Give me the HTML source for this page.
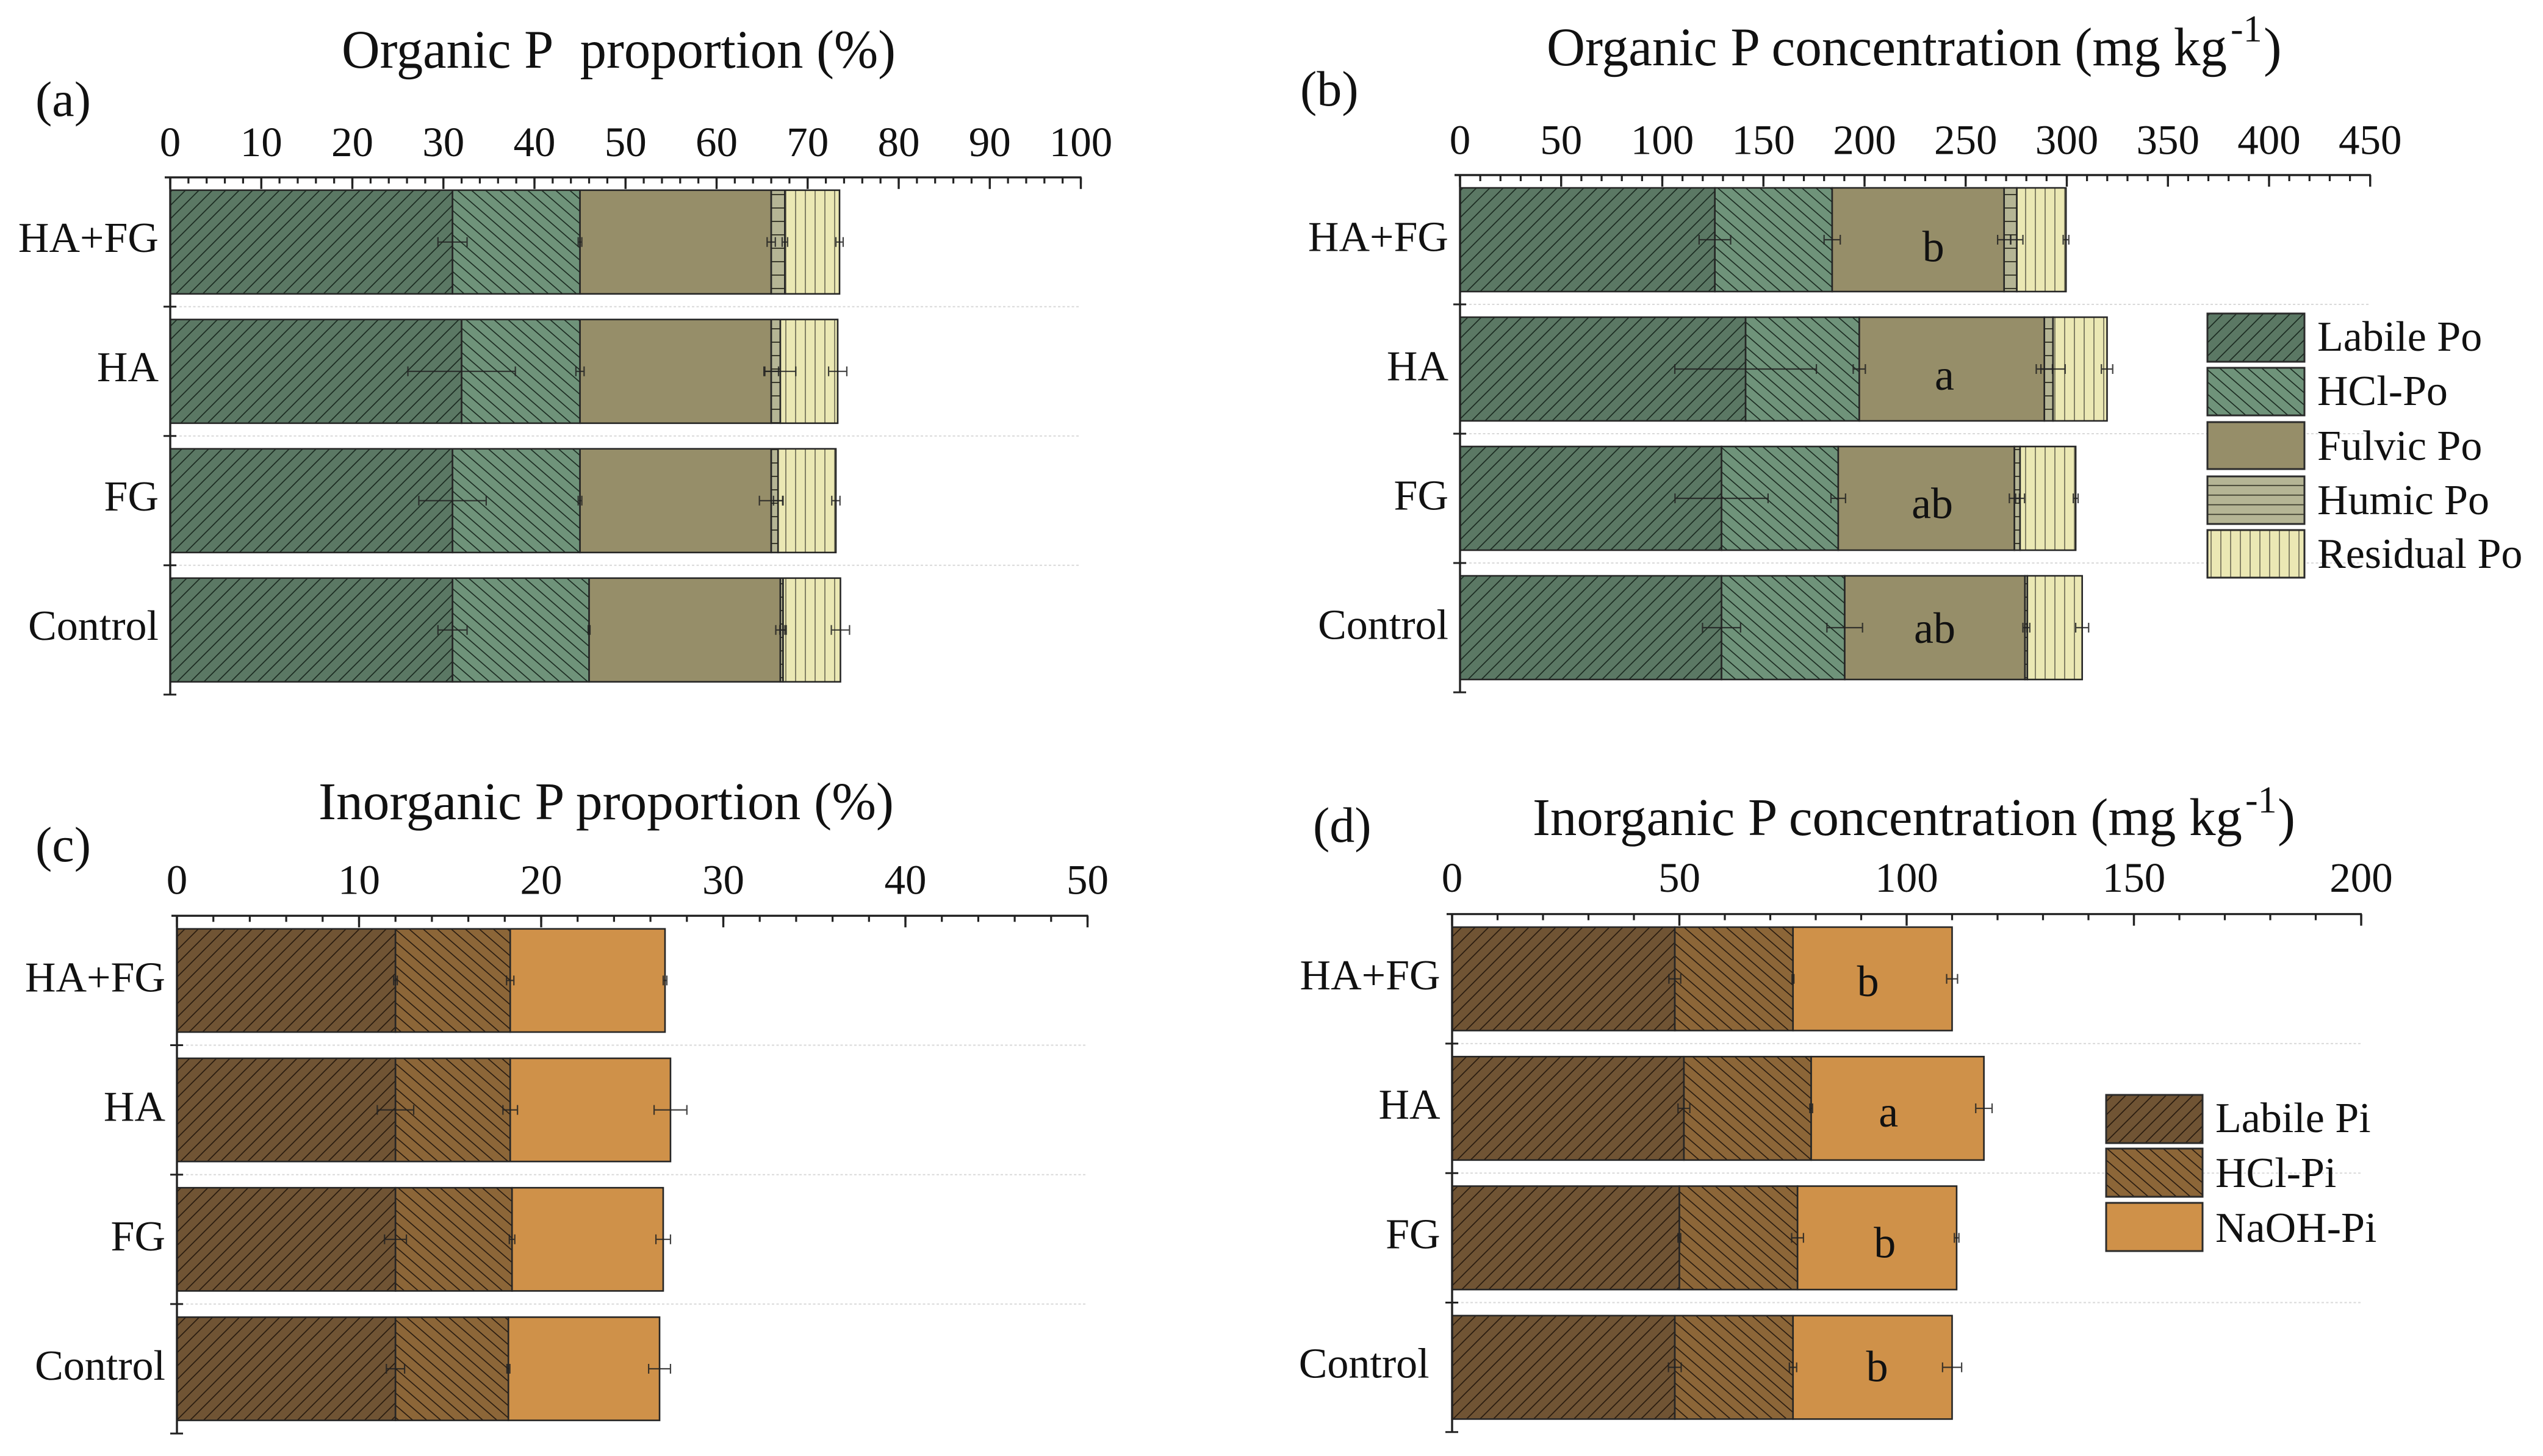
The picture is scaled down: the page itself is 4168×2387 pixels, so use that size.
<!DOCTYPE html>
<html lang="en">
<head>
<meta charset="utf-8">
<title>Organic and inorganic P fractions</title>
<style>
  html, body { margin: 0; padding: 0; background: #ffffff; }
  svg { display: block; }
  text { font-family: "Liberation Serif", serif; fill: #111111; }
</style>
</head>
<body>
<svg id="figure" xmlns="http://www.w3.org/2000/svg" width="4168" height="2387" viewBox="0 0 4168 2387">
  <defs>
    <pattern id="pLabilePo" patternUnits="userSpaceOnUse" width="22" height="22">
      <rect width="22" height="22" fill="#5b7864"/>
      <path d="M0,22 L22,0 M-3,3 L3,-3 M19,25 L25,19" stroke="#1c2c22" stroke-width="1.7"/>
    </pattern>
    <pattern id="pHclPo" patternUnits="userSpaceOnUse" width="23" height="20">
      <rect width="23" height="20" fill="#6f937a"/>
      <path d="M0,0 L23,20 M-3,17.4 L3,22.6 M20,-2.6 L26,2.6" stroke="#1c2c22" stroke-width="1.7"/>
    </pattern>
    <pattern id="pFulvicPo" patternUnits="userSpaceOnUse" width="20" height="20">
      <rect width="20" height="20" fill="#968e69"/>
    </pattern>
    <pattern id="pHumicPo" patternUnits="userSpaceOnUse" width="20" height="22">
      <rect width="20" height="22" fill="#b5b595"/>
      <path d="M0,11 L20,11" stroke="#3b3b2c" stroke-width="2"/>
    </pattern>
    <pattern id="pHumicLegend" patternUnits="userSpaceOnUse" x="3618" y="781" width="20" height="15.8">
      <rect width="20" height="15.8" fill="#b5b595"/>
      <path d="M0,15 L20,15" stroke="#3b3b2c" stroke-width="1.8"/>
    </pattern>
    <pattern id="pResidualPo" patternUnits="userSpaceOnUse" width="16" height="20">
      <rect width="16" height="20" fill="#ebe8b4"/>
      <path d="M8,0 L8,20" stroke="#77755c" stroke-width="1.8"/>
    </pattern>
    <pattern id="pLabilePi" patternUnits="userSpaceOnUse" width="22" height="22">
      <rect width="22" height="22" fill="#705434"/>
      <path d="M0,22 L22,0 M-3,3 L3,-3 M19,25 L25,19" stroke="#2a1c10" stroke-width="1.7"/>
    </pattern>
    <pattern id="pHclPi" patternUnits="userSpaceOnUse" width="23" height="20">
      <rect width="23" height="20" fill="#8c6638"/>
      <path d="M0,0 L23,20 M-3,17.4 L3,22.6 M20,-2.6 L26,2.6" stroke="#2a1c10" stroke-width="1.7"/>
    </pattern>
    <pattern id="pNaohPi" patternUnits="userSpaceOnUse" width="20" height="20">
      <rect width="20" height="20" fill="#cf9149"/>
    </pattern>
  </defs>

  <!-- Titles and panel letters -->
  <text x="560" y="111" font-size="89" textLength="908" lengthAdjust="spacingAndGlyphs">Organic P&#160; proportion (%)</text>
  <text x="58" y="190" font-size="82">(a)</text>

  <text x="2535" y="107" font-size="89" textLength="1115" lengthAdjust="spacingAndGlyphs">Organic P concentration (mg kg</text>
  <text x="3656" y="68" font-size="62">-1</text>
  <text x="3710" y="107" font-size="89">)</text>
  <text x="2131" y="173" font-size="82">(b)</text>

  <text x="522" y="1343" font-size="87" textLength="943" lengthAdjust="spacingAndGlyphs">Inorganic P proportion (%)</text>
  <text x="58" y="1412" font-size="82">(c)</text>

  <text x="2512" y="1369" font-size="87" textLength="1163" lengthAdjust="spacingAndGlyphs">Inorganic P concentration (mg kg</text>
  <text x="3680" y="1332" font-size="62">-1</text>
  <text x="3733" y="1369" font-size="87">)</text>
  <text x="2152" y="1380" font-size="82">(d)</text>

  <g id="panels"></g>

  <!-- Legend: organic P -->
  <g stroke-width="3" stroke="#2b2b2b">
    <rect x="3618" y="514" width="159" height="79" fill="url(#pLabilePo)"/>
    <rect x="3618" y="603" width="159" height="78" fill="url(#pHclPo)"/>
    <rect x="3618" y="692" width="159" height="77" fill="url(#pFulvicPo)"/>
    <rect x="3618" y="781" width="159" height="78" fill="url(#pHumicLegend)"/>
    <rect x="3618" y="869" width="159" height="78" fill="url(#pResidualPo)"/>
  </g>
  <text x="3798" y="575" font-size="70">Labile Po</text>
  <text x="3798" y="664" font-size="70">HCl-Po</text>
  <text x="3798" y="754" font-size="70">Fulvic Po</text>
  <text x="3798" y="843" font-size="70">Humic Po</text>
  <text x="3798" y="931" font-size="70">Residual Po</text>

  <!-- Legend: inorganic P -->
  <g stroke-width="3" stroke="#2b2b2b">
    <rect x="3452" y="1795" width="158" height="79" fill="url(#pLabilePi)"/>
    <rect x="3452" y="1883" width="158" height="79" fill="url(#pHclPi)"/>
    <rect x="3452" y="1972" width="158" height="79" fill="url(#pNaohPi)"/>
  </g>
  <text x="3631" y="1856" font-size="70">Labile Pi</text>
  <text x="3631" y="1946" font-size="70">HCl-Pi</text>
  <text x="3631" y="2036" font-size="70">NaOH-Pi</text>
</svg>

<script>
// ---- Data (segment sizes, in order HA+FG, HA, FG, Control) ----
const categories = ['HA+FG', 'HA', 'FG', 'Control'];

const aTicks = [0, 10, 20, 30, 40, 50, 60, 70, 80, 90, 100];
const aLabile = [31.0, 32.0, 31.0, 31.0];
const aHcl = [14.0, 13.0, 14.0, 15.0];
const aFulvic = [21.0, 21.0, 21.0, 21.0];
const aHumic = [1.5, 1.0, 0.75, 0.3];
const aResidual = [6.0, 6.3, 6.35, 6.3];
const aErrLabile = [1.6, 5.9, 3.7, 1.6];
const aErrHcl = [0.2, 0.45, 0.2, 0.1];
const aErrFulvic = [0.45, 0.8, 1.3, 0.5];
const aErrHumic = [0.3, 1.7, 0.5, 0.35];
const aErrResidual = [0.4, 1.0, 0.45, 1.0];

const bTicks = [0, 50, 100, 150, 200, 250, 300, 350, 400, 450];
const bLabile = [126.0, 141.2, 129.3, 129.3];
const bHcl = [58.0, 56.2, 57.7, 60.9];
const bFulvic = [85.0, 91.5, 87.1, 89.1];
const bHumic = [6.3, 4.3, 2.8, 1.2];
const bResidual = [24.3, 26.7, 27.5, 27.1];
const bErrLabile = [7.8, 35.0, 23.0, 9.4];
const bErrHcl = [4.0, 3.0, 3.6, 8.8];
const bErrFulvic = [3.2, 4.0, 2.5, 1.0];
const bErrHumic = [3.0, 6.0, 2.2, 1.2];
const bErrResidual = [1.4, 2.8, 1.2, 3.2];
const bLetters = ['b', 'a', 'ab', 'ab'];
const bLetterAt = [234, 239.5, 233.5, 234.7];

const cTicks = [0, 10, 20, 30, 40, 50];
const cLabile = [12.0, 12.0, 12.0, 12.0];
const cHcl = [6.3, 6.3, 6.4, 6.2];
const cNaoh = [8.5, 8.8, 8.3, 8.3];
const cErrLabile = [0.1, 1.0, 0.6, 0.5];
const cErrHcl = [0.2, 0.4, 0.15, 0.08];
const cErrNaoh = [0.1, 0.9, 0.4, 0.6];

const dTicks = [0, 50, 100, 150, 200];
const dLabile = [49.0, 51.0, 50.0, 49.0];
const dHcl = [26.0, 28.0, 26.0, 26.0];
const dNaoh = [35.0, 38.0, 35.0, 35.0];
const dErrLabile = [1.3, 1.3, 0.3, 1.4];
const dErrHcl = [0.2, 0.3, 1.3, 0.8];
const dErrNaoh = [1.2, 1.8, 0.5, 2.1];
const dLetters = ['b', 'a', 'b', 'b'];
const dLetterAt = [91.5, 96, 95.2, 93.5];

// ---- Panel layout ----
const organicSeries = [
  { key: 'labile', fill: 'url(#pLabilePo)' },
  { key: 'hcl', fill: 'url(#pHclPo)' },
  { key: 'fulvic', fill: 'url(#pFulvicPo)' },
  { key: 'humic', fill: 'url(#pHumicPo)' },
  { key: 'residual', fill: 'url(#pResidualPo)' }
];
const inorganicSeries = [
  { key: 'labile', fill: 'url(#pLabilePi)' },
  { key: 'hcl', fill: 'url(#pHclPi)' },
  { key: 'naoh', fill: 'url(#pNaohPi)' }
];

const panels = [
  { id: 'a', x0: 279, pxPerUnit: 14.925, max: 100, minorStep: 2, y0: 290.8, band: 212, barHalf: 85,
    tickBase: 256, labelRight: 260, labelDy: 16, lastLabelShift: 0, series: organicSeries,
    ticks: aTicks, values: [aLabile, aHcl, aFulvic, aHumic, aResidual],
    errors: [aErrLabile, aErrHcl, aErrFulvic, aErrHumic, aErrResidual] },
  { id: 'b', x0: 2393, pxPerUnit: 3.315, max: 450, minorStep: 10, y0: 287, band: 212, barHalf: 85,
    tickBase: 252.5, labelRight: 2374, labelDy: 18.7, lastLabelShift: 0, series: organicSeries,
    ticks: bTicks, values: [bLabile, bHcl, bFulvic, bHumic, bResidual],
    errors: [bErrLabile, bErrHcl, bErrFulvic, bErrHumic, bErrResidual],
    letters: bLetters, letterAt: bLetterAt, letterDy: [35.6, 34, 32.5, 25] },
  { id: 'c', x0: 290, pxPerUnit: 29.85, max: 50, minorStep: 2, y0: 1501.3, band: 212.2, barHalf: 84.6,
    tickBase: 1465.6, labelRight: 271, labelDy: 18, lastLabelShift: 0, series: inorganicSeries,
    ticks: cTicks, values: [cLabile, cHcl, cNaoh],
    errors: [cErrLabile, cErrHcl, cErrNaoh] },
  { id: 'd', x0: 2380, pxPerUnit: 7.45, max: 200, minorStep: 10, y0: 1498.6, band: 212.3, barHalf: 84.8,
    tickBase: 1462, labelRight: 2360.6, labelDy: 17, lastLabelShift: -18, series: inorganicSeries,
    ticks: dTicks, values: [dLabile, dHcl, dNaoh],
    errors: [dErrLabile, dErrHcl, dErrNaoh],
    letters: dLetters, letterAt: dLetterAt, letterDy: [28, 30, 32, 23] }
];

// ---- Drawing ----
const SVG_NS = 'http://www.w3.org/2000/svg';
const root = document.getElementById('panels');

function mk(tag, attrs, parent) {
  const node = document.createElementNS(SVG_NS, tag);
  for (const k in attrs) node.setAttribute(k, attrs[k]);
  parent.appendChild(node);
  return node;
}

function slug(s) {
  return s.toLowerCase().replace(/[^a-z0-9]+/g, '-');
}

function drawPanel(p) {
  const xScale = function (v) { return p.x0 + v * p.pxPerUnit; };
  const bandEdge = function (i) { return p.y0 + i * p.band; };
  const bandCentre = function (i) { return p.y0 + (i + 0.5) * p.band; };
  const xEnd = xScale(p.max);

  const g = mk('g', {}, root);
  
  

  // dotted separators (between categories only)
  for (let i = 1; i < categories.length; i++) {
    const grid = mk('line', { x1: p.x0, x2: xEnd, y1: bandEdge(i), y2: bandEdge(i), stroke: '#d9d9d9', 'stroke-width': 2, 'stroke-dasharray': '4 3.5' }, g);
    
    
  }

  // stacked bars
  categories.forEach(function (cat, c) {
    let sum = 0;
    p.series.forEach(function (s, si) {
      const v = p.values[si][c];
      const rect = mk('rect', {
        x: xScale(sum), y: bandCentre(c) - p.barHalf,
        width: v * p.pxPerUnit, height: p.barHalf * 2,
        fill: s.fill, stroke: '#262626', 'stroke-width': 2.6
      }, g);
      
      
      sum += v;
    });
  });

  // error bars on top of all bars
  categories.forEach(function (cat, c) {
    let sum = 0;
    p.series.forEach(function (s, si) {
      sum += p.values[si][c];
      const e = p.errors[si][c];
      const cy = bandCentre(c);
      const lo = xScale(sum - e);
      const hi = xScale(sum + e);
      const err = mk('path', {
        d: 'M' + lo + ',' + cy + ' L' + hi + ',' + cy +
           ' M' + lo + ',' + (cy - 8) + ' L' + lo + ',' + (cy + 8) +
           ' M' + hi + ',' + (cy - 8) + ' L' + hi + ',' + (cy + 8),
        fill: 'none', stroke: '#222222', 'stroke-width': 2.2, 'stroke-opacity': 0.85
      }, g);
      
      
    });
  });

  // top axis
  const topAxis = mk('line', { x1: p.x0 - 9, x2: xEnd + 1, y1: p.y0, y2: p.y0, stroke: '#222222', 'stroke-width': 3.4 }, g);
  
  

  // minor ticks
  for (let v = 0; v <= p.max + 1e-6; v += p.minorStep) {
    const minor = mk('line', { x1: xScale(v), x2: xScale(v), y1: p.y0, y2: p.y0 + 10, stroke: '#222222', 'stroke-width': 3.2 }, g);
    
    
  }

  // major ticks and labels
  p.ticks.forEach(function (t) {
    const major = mk('line', { x1: xScale(t), x2: xScale(t), y1: p.y0, y2: p.y0 + 19, stroke: '#222222', 'stroke-width': 3.4 }, g);
    
    

    const lab = mk('text', { x: xScale(t), y: p.tickBase, 'font-size': 69, 'text-anchor': 'middle' }, g);
    lab.textContent = String(t);
    
    
  });

  // left axis
  const leftAxis = mk('line', { x1: p.x0, x2: p.x0, y1: p.y0, y2: bandEdge(categories.length) + 1, stroke: '#222222', 'stroke-width': 3.4 }, g);
  
  

  for (let i = 1; i <= categories.length; i++) {
    const yt = mk('line', { x1: p.x0 - 11, x2: p.x0 + 10, y1: bandEdge(i), y2: bandEdge(i), stroke: '#222222', 'stroke-width': 3 }, g);
    
    
  }

  // category labels
  categories.forEach(function (cat, c) {
    const shift = c === categories.length - 1 ? p.lastLabelShift : 0;
    const lab = mk('text', { x: p.labelRight + shift, y: bandCentre(c) + p.labelDy, 'font-size': 70, 'text-anchor': 'end' }, g);
    lab.textContent = cat;
    
    
  });

  // significance letters
  if (p.letters) {
    p.letters.forEach(function (letter, c) {
      const lab = mk('text', { x: xScale(p.letterAt[c]), y: bandCentre(c) + p.letterDy[c], 'font-size': 72, 'text-anchor': 'middle' }, g);
      lab.textContent = letter;
      
      
    });
  }
}

panels.forEach(drawPanel);
</script>
</body>
</html>
